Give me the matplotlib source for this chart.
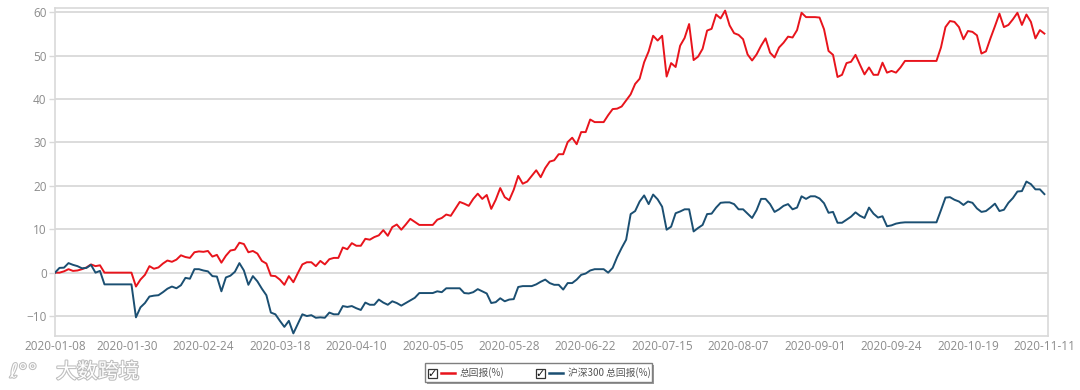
"""
Cumulative return vs CSI 300 benchmark, 2020-01-08 .. 2020-11-11.
"""

import numpy as np
import pandas as pd
import matplotlib
matplotlib.use("Agg")
import matplotlib.pyplot as plt
import matplotlib.patheffects as pe
from matplotlib.patches import Rectangle
from matplotlib.lines import Line2D

plt.rcParams["font.family"] = ["Noto Sans CJK SC", "DejaVu Sans"]

# ── Data (one value per weekday, holidays repeat the previous close) ──
dates = pd.bdate_range("2020-01-08", "2020-11-11")

fund_ret = [
    0.0, 0.0, 0.3, 0.8, 0.4, 0.5, 0.8, 1.2, 1.9, 1.5, 1.7,
    0.0, 0.0, 0.0, 0.0, 0.0, 0.0, 0.0,
    -3.2, -1.6, -0.5, 1.5, 0.9, 1.2, 2.1, 2.8, 2.5, 3.0, 4.0, 3.6, 3.4, 4.7, 4.9, 4.8, 5.0, 3.7, 4.1, 2.3,
    3.9, 5.1, 5.3, 6.9, 6.6, 4.7, 5.0, 4.4, 2.7, 2.1, -0.7, -0.8, -1.6, -2.8, -0.8, -2.2, -0.1, 1.9,
    2.4, 2.4, 1.5, 2.7, 1.9, 3.1, 3.4, 3.4, 5.8, 5.4, 6.8, 6.2, 6.2, 7.8, 7.6, 8.2, 8.6, 9.8,
    8.5, 10.5, 11.1, 9.9, 11.1, 12.4, 11.7, 11.0, 11.0, 11.0, 11.0, 12.2, 12.6, 13.4, 13.1, 14.7,
    16.3, 15.9, 15.4, 17.0, 18.2, 17.0, 17.9, 14.7, 16.8, 19.5, 17.4, 16.7, 19.1, 22.3, 20.5, 21.0,
    22.3, 23.6, 22.0, 24.1,
    25.6, 25.9, 27.3, 27.3, 30.1, 31.1, 29.6, 32.4, 32.4, 35.3, 34.7, 34.7, 34.7, 36.3, 37.7, 37.8,
    38.3, 39.7, 41.1, 43.5, 44.7, 48.5, 51.0, 54.6, 53.5, 54.6, 45.2, 48.3, 47.4, 52.3, 54.1, 57.3,
    49.0, 49.8, 51.6, 55.8,
    56.2, 59.5, 58.6, 60.4, 57.0, 55.2, 54.8, 53.8, 50.3, 48.9, 50.3, 52.3, 54.0, 50.7, 49.6, 51.9,
    53.0, 54.4, 54.2, 55.9, 59.9, 58.9, 58.9, 58.9, 58.8, 56.1, 51.1, 50.2, 45.1, 45.6, 48.3, 48.6,
    50.2, 47.9, 45.7, 47.3, 45.6, 45.6,
    48.4, 46.1, 46.5, 46.1, 47.3, 48.8,
    48.8, 48.8, 48.8, 48.8, 48.8, 48.8, 48.8,
    51.9, 56.6, 58.0, 57.8, 56.6, 53.8, 55.7, 55.5, 54.7, 50.5, 51.0, 54.0, 56.8, 59.7, 56.6, 57.1,
    58.4, 59.9, 57.1, 59.5, 57.8, 54.0, 55.9, 55.1,
]

hs300_ret = [
    0.0, 1.1, 1.15, 2.2, 1.8, 1.5, 1.0, 1.1, 1.8, 0.0, 0.4,
    -2.7, -2.7, -2.7, -2.7, -2.7, -2.7, -2.7,
    -10.3, -8.0, -7.0, -5.5, -5.3, -5.2, -4.5, -3.7, -3.2, -3.6, -2.9, -1.2, -1.4, 0.8, 0.8, 0.5,
    0.3, -0.8, -0.9, -4.3,
    -1.1, -0.7, 0.2, 2.2, 0.5, -2.8, -0.8, -2.0, -3.7, -5.2, -9.2, -9.6, -11.1, -12.5, -11.1, -14.0,
    -11.8, -9.6, -10.0, -9.8, -10.4, -10.3, -10.4, -9.2, -9.6, -9.6, -7.7, -7.9, -7.7, -8.2, -8.6,
    -6.9, -7.4, -7.4, -6.2, -6.9,
    -7.4, -6.6, -7.0, -7.6, -7.0, -6.4, -5.8, -4.7, -4.7, -4.7, -4.7, -4.3, -4.5, -3.6, -3.6, -3.6,
    -3.6, -4.7, -4.8, -4.5, -3.8, -4.3, -4.8, -7.0, -6.8, -5.9, -6.6, -6.2, -6.1, -3.3, -3.1, -3.1,
    -3.1, -2.7, -2.1, -1.6,
    -2.4, -2.8, -2.8, -3.9, -2.4, -2.4, -1.6, -0.5, -0.2, 0.5, 0.8, 0.8, 0.8, 0.0, 1.1, 3.6,
    5.7, 7.6, 13.5, 14.2, 16.4, 17.8, 15.8, 18.0, 16.9, 15.2, 9.9, 10.6, 13.7, 14.1, 14.6, 14.6,
    9.5, 10.3, 11.0, 13.5,
    13.6, 15.0, 16.1, 16.2, 16.2, 15.8, 14.6, 14.6, 13.6, 12.6, 14.4, 17.0, 17.0, 15.8, 14.0, 14.6,
    15.4, 15.8, 14.6, 15.0, 17.6, 17.0, 17.6, 17.6, 17.1, 16.0, 13.8, 14.0, 11.5, 11.5, 12.2, 12.9,
    13.9, 13.1, 12.6, 15.0, 13.6, 12.7,
    13.0, 10.7, 10.9, 11.3, 11.5, 11.6,
    11.6, 11.6, 11.6, 11.6, 11.6, 11.6, 11.6,
    14.4, 17.3, 17.4, 16.8, 16.4, 15.6, 16.4, 16.1, 14.8, 14.0, 14.2, 15.0, 15.9, 14.2, 14.5, 16.1,
    17.2, 18.7, 18.8, 21.0, 20.4, 19.2, 19.2, 18.1,
]

y_ticks = [-10, 0, 10, 20, 30, 40, 50, 60]
n_labels = 14

RED = "#e8141c"
BLUE = "#1b4f72"
GRID = "#d9d9d9"
TICK = "#8c8c8c"

x = np.arange(len(dates))
tick_idx = [int(k * (len(dates) - 1) / (n_labels - 1)) for k in range(n_labels)]
tick_lbl = [dates[i].strftime("%Y-%m-%d") for i in tick_idx]

fig = plt.figure(figsize=(10.8, 3.9), dpi=100)
ax = fig.add_axes([55 / 1080, 1 - 336 / 390, 993 / 1080, 328 / 390])

ax.plot(x, fund_ret, color=RED, linewidth=1.4, label="总回报(%)", zorder=3)
ax.plot(x, hs300_ret, color=BLUE, linewidth=1.4, label="沪深300 总回报(%)", zorder=3)

ax.set_xlim(0, len(dates) - 1 + 0.8)
ax.set_ylim(-14.6, 61.0)
ax.set_yticks(y_ticks)
ax.set_xticks(tick_idx)
ax.set_xticklabels(tick_lbl)
ax.grid(axis="y", color=GRID, linewidth=1.3, zorder=0)
ax.tick_params(axis="y", colors=GRID, labelcolor=TICK, labelsize=8.5, length=4, width=1, pad=2)
ax.tick_params(axis="x", length=0, labelcolor=TICK, labelsize=8.5, pad=3)
for lab in ax.get_xticklabels() + ax.get_yticklabels():
    lab.set_family("Open Sans")
for side in ["left", "right", "top", "bottom"]:
    ax.spines[side].set_color(GRID)
    ax.spines[side].set_linewidth(1.2)

# ── Legend box with check boxes ──
def fx(px):
    return px / 1080


def fy(py):
    return 1 - py / 390


lx0, ly0, lw, lh = 425, 363, 227, 19
fig.patches.append(Rectangle((fx(lx0 + 2), fy(ly0 + lh + 2)), lw / 1080, lh / 390,
                             transform=fig.transFigure, facecolor="#9a9a9a", edgecolor="none", zorder=1))
fig.patches.append(Rectangle((fx(lx0), fy(ly0 + lh)), lw / 1080, lh / 390,
                             transform=fig.transFigure, facecolor="white", edgecolor="#7f7f7f",
                             linewidth=1, zorder=2))

entries = [(428, RED, "总回报(%)"), (536, BLUE, "沪深300 总回报(%)")]
cy = 373
for ex, col, txt in entries:
    fig.patches.append(Rectangle((fx(ex), fy(cy + 5)), 9 / 1080, 9 / 390, transform=fig.transFigure,
                                 facecolor="white", edgecolor="#333333", linewidth=0.9, zorder=3))
    fig.text(fx(ex + 4.5), fy(cy + 0.5), "✓", family="DejaVu Sans", fontsize=8, fontweight="bold",
             ha="center", va="center", color="#111111", zorder=4)
    fig.lines.append(Line2D([fx(ex + 13), fx(ex + 27)], [fy(cy), fy(cy)], transform=fig.transFigure,
                            color=col, linewidth=1.8, zorder=4))
    fig.text(fx(ex + 32), fy(cy), txt, fontsize=7, color="#555555", ha="left", va="center", zorder=4)

# ── Watermark ──
fig.text(fx(56), fy(372), "大数跨境", fontsize=15, color="white", ha="left", va="center",
         path_effects=[pe.withStroke(linewidth=1.5, foreground="#bdbdbd")])
fig.text(fx(10), fy(372), "ℓ°°", family="DejaVu Sans", fontsize=14, color="white", ha="left",
         va="center", path_effects=[pe.withStroke(linewidth=1.5, foreground="#bdbdbd")])

fig.savefig("out.png", dpi=100, facecolor="white")
